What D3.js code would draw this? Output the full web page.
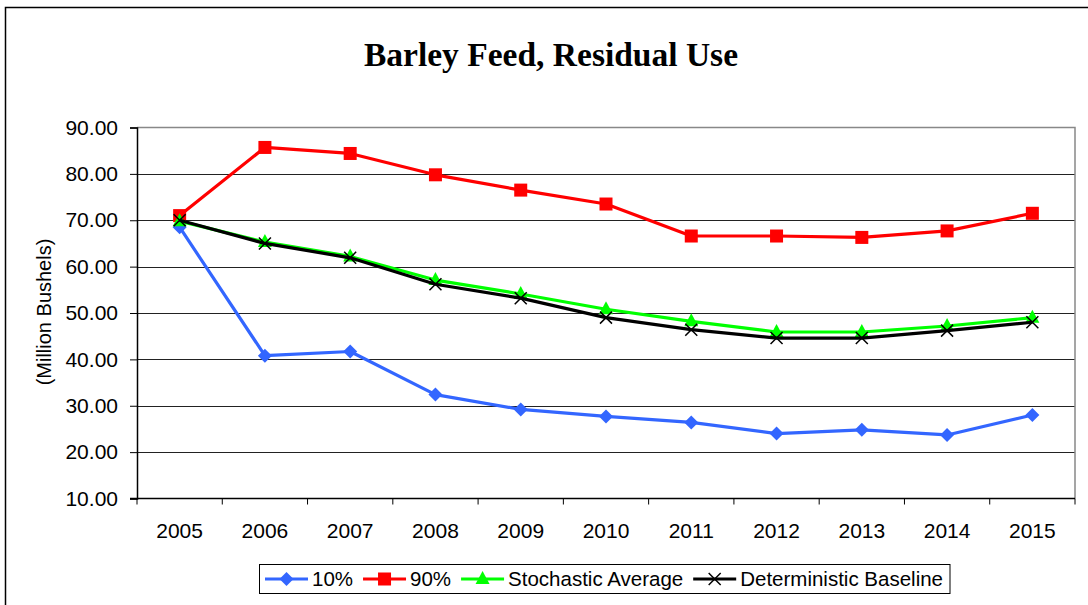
<!DOCTYPE html>
<html lang="en">
<head>
    <meta charset="UTF-8">
    <script src="https://cdn.jsdelivr.net/npm/d3@7"></script>
    <title>Barley Feed, Residual Use</title>
    <style>
        body { margin: 0; background: #fff; }
        text { font-family: Arial, "Liberation Sans", sans-serif; fill: #000; }
    </style>
</head>
<body>
<script>

    // values
    let years = ["2005", "2006", "2007", "2008", "2009", "2010", "2011", "2012", "2013", "2014", "2015"]
    let p10 = [68.5, 40.8, 41.7, 32.4, 29.2, 27.7, 26.4, 24.0, 24.8, 23.7, 28.0]
    let p90 = [71.0, 85.7, 84.4, 79.8, 76.5, 73.5, 66.6, 66.6, 66.3, 67.7, 71.5]
    let stochAvg = [69.8, 65.3, 62.2, 57.1, 54.1, 50.8, 48.2, 45.9, 45.9, 47.2, 49.0]
    let baseline = [70.0, 65.0, 61.9, 56.2, 53.2, 49.0, 46.4, 44.6, 44.6, 46.2, 48.0]
    let yTicks = [10, 20, 30, 40, 50, 60, 70, 80, 90]

    let series = [
        {name: "10%", values: p10, color: "#3366ff", marker: "diamond"},
        {name: "90%", values: p90, color: "#ff0000", marker: "square"},
        {name: "Stochastic Average", values: stochAvg, color: "#00ff00", marker: "triangle"},
        {name: "Deterministic Baseline", values: baseline, color: "#000000", marker: "x"}
    ]

    let width = 1088,
        height = 605,
        plotLeft = 137, plotRight = 1075, plotTop = 127.5, plotBottom = 498.5

    let x = d3.scaleBand().domain(years).range([plotLeft, plotRight])
    let y = d3.scaleLinear().domain([10, 90]).range([plotBottom, plotTop])

    let svg = d3.select("body").append("svg")
        .attr("width", width)
        .attr("height", height)

    // outer chart frame (only top and left are inside the picture)
    svg.append("path")
        .attr("d", "M5.5,605 V7.5 H1088")
        .attr("fill", "none")
        .attr("stroke", "#000")
        .attr("stroke-width", 1.5)

    svg.append("text")
        .attr("x", 551).attr("y", 66)
        .attr("text-anchor", "middle")
        .style("font-family", "'Times New Roman', 'Liberation Serif', serif")
        .style("font-weight", "bold")
        .style("font-size", "33.5px")
        .text("Barley Feed, Residual Use")

    // gridlines
    svg.append("g").selectAll("line")
        .data(yTicks.filter(d => d > 10 && d < 90))
        .enter().append("line")
        .attr("x1", plotLeft).attr("x2", plotRight)
        .attr("y1", d => Math.round(y(d)) + 0.5)
        .attr("y2", d => Math.round(y(d)) + 0.5)
        .attr("stroke", "#222")
        .attr("stroke-width", 1)

    // plot border top / right (grey)
    svg.append("path")
        .attr("d", `M${plotLeft},${plotTop} H${plotRight} V${plotBottom}`)
        .attr("fill", "none")
        .attr("stroke", "#888")
        .attr("stroke-width", 1.5)

    // y axis
    let yAxis = svg.append("g")
        .attr("transform", `translate(${plotLeft},0)`)
        .call(d3.axisLeft(y).tickValues(yTicks).tickSize(7).tickPadding(12).tickFormat(d3.format(".2f")))
    yAxis.select(".domain").attr("stroke", "#000").attr("stroke-width", 1.5)
    yAxis.selectAll(".tick line").attr("stroke", "#000")
    yAxis.selectAll(".tick text").style("font-size", "21px").attr("font-family", null)

    // x axis with ticks at band edges
    let xg = svg.append("g").attr("transform", `translate(0,${plotBottom})`)
    xg.append("line")
        .attr("x1", plotLeft - 7).attr("x2", plotRight)
        .attr("stroke", "#000").attr("stroke-width", 1.5)
    let edges = years.map(d => x(d)).concat([plotRight])
    xg.selectAll("line.tk").data(edges).enter().append("line")
        .attr("class", "tk")
        .attr("x1", d => d).attr("x2", d => d)
        .attr("y1", 0).attr("y2", 6)
        .attr("stroke", "#000")
    xg.selectAll("text").data(years).enter().append("text")
        .attr("x", d => x(d) + x.bandwidth() / 2)
        .attr("y", 39)
        .attr("text-anchor", "middle")
        .style("font-size", "21px")
        .text(d => d)

    svg.append("text")
        .attr("transform", "translate(51,312) rotate(-90)")
        .attr("text-anchor", "middle")
        .style("font-size", "20px")
        .text("(Million Bushels)")

    let cx = (d, i) => x(years[i]) + x.bandwidth() / 2

    function drawMarker(g, type, color) {
        if (type === "diamond") {
            g.append("path").attr("d", "M0,-7 L7,0 L0,7 L-7,0 Z").attr("fill", color)
        } else if (type === "square") {
            g.append("rect").attr("x", -6.5).attr("y", -6.5).attr("width", 13).attr("height", 13).attr("fill", color)
        } else if (type === "triangle") {
            g.append("path").attr("d", "M0,-8 L7,5 L-7,5 Z").attr("fill", color)
        } else {
            g.append("path").attr("d", "M-6,-6 L6,6 M-6,6 L6,-6")
                .attr("stroke", color).attr("stroke-width", 1.5).attr("fill", "none")
        }
    }

    let line = d3.line()
        .x(cx)
        .y(d => y(d))

    series.forEach(function (s) {
        svg.append("path")
            .attr("d", line(s.values))
            .attr("fill", "none")
            .attr("stroke", s.color)
            .attr("stroke-width", 3.2)
            .attr("stroke-linejoin", "round")
        svg.append("g").selectAll("g")
            .data(s.values)
            .enter().append("g")
            .attr("transform", (d, i) => `translate(${cx(d, i)},${y(d)})`)
            .each(function () { drawMarker(d3.select(this), s.marker, s.color) })
    })

    // legend
    let lg = svg.append("g")
    let lx = 265, ly = 579
    series.forEach(function (s) {
        lg.append("line")
            .attr("x1", lx).attr("x2", lx + 43)
            .attr("y1", ly).attr("y2", ly)
            .attr("stroke", s.color).attr("stroke-width", 3.2)
        let m = lg.append("g").attr("transform", `translate(${lx + 21.5},${ly})`)
        drawMarker(m, s.marker, s.color)
        let t = lg.append("text")
            .attr("x", lx + 47).attr("y", ly + 7)
            .style("font-size", "20.5px")
            .text(s.name)
        lx += 47 + t.node().getComputedTextLength() + 10
    })
    lg.insert("rect", ":first-child")
        .attr("x", 259.5).attr("y", 564.5)
        .attr("width", lx - 259.5 - 3).attr("height", 29)
        .attr("fill", "#fff")
        .attr("stroke", "#000")
        .attr("stroke-width", 1)

</script>
</body>
</html>
